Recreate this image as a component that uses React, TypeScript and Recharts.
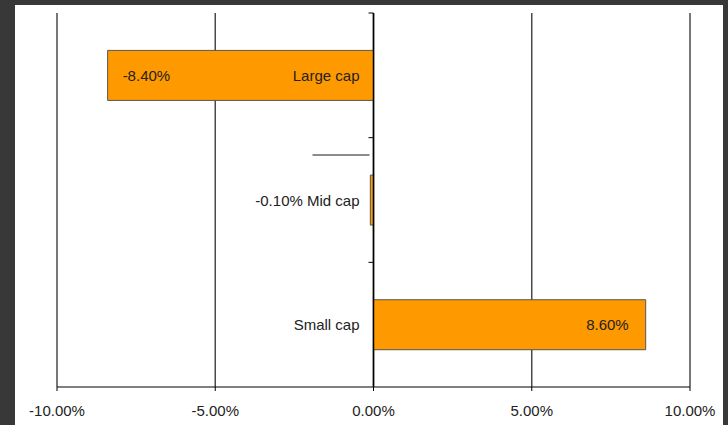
import { BarChart, Bar, XAxis, YAxis, CartesianGrid, ReferenceLine, LabelList } from 'recharts';

const categories = ['Large cap', 'Mid cap', 'Small cap'];
const returns = [-8.4, -0.1, 8.6];
const xTicks = [-10, -5, 0, 5, 10];

const data = categories.map((name, i) => ({ name, value: returns[i] }));

const FONT = 'Liberation Sans, Arial, sans-serif';
const fmt = (v: number) => `${v.toFixed(2)}%`;

function barEdges(props: any) {
  const x = Number(props.x);
  const w = Number(props.width);
  return { left: Math.min(x, x + w), right: Math.max(x, x + w) };
}

// category name sits next to the zero axis, like the original
function CategoryLabel(props: any) {
  const { y, height, index } = props;
  const v = returns[index];
  const { left, right } = barEdges(props);
  const zero = v < 0 ? right : left;
  const small = right - left < 60;
  const text = small ? `${fmt(v)} ${categories[index]}` : categories[index];
  const cy = Number(y) + Number(height) / 2;
  return (
    <g>
      {small && (
        <line x1={zero - 61} x2={zero - 4} y1={Number(y) - 20} y2={Number(y) - 20} stroke="#666" strokeWidth={1.5} />
      )}
      <text x={zero - 14} y={cy} textAnchor="end" dominantBaseline="central" fontSize={15} fontFamily={FONT} fill="#222">
        {text}
      </text>
    </g>
  );
}

function ValueLabel(props: any) {
  const { y, height, index } = props;
  const v = returns[index];
  const { left, right } = barEdges(props);
  if (right - left < 60) return null;
  const cy = Number(y) + Number(height) / 2;
  return (
    <text
      x={v < 0 ? left + 15 : right - 17}
      y={cy}
      textAnchor={v < 0 ? 'start' : 'end'}
      dominantBaseline="central"
      fontSize={15}
      fontFamily={FONT}
      fill="#222"
    >
      {fmt(v)}
    </text>
  );
}

// zero axis with tick marks at the category boundaries
function ZeroAxis(props: any) {
  const { x1, y1, y2 } = props;
  const top = Math.min(y1, y2);
  const bottom = Math.max(y1, y2);
  const step = (bottom - top) / categories.length;
  const marks = [];
  for (let i = 0; i < categories.length; i++) {
    const yy = top + i * step;
    marks.push(<line key={i} x1={x1 - 5} x2={x1} y1={yy} y2={yy} stroke="#000" strokeWidth={1} />);
  }
  return (
    <g>
      <line x1={x1} x2={x1} y1={top} y2={bottom} stroke="#000" strokeWidth={1.5} />
      {marks}
    </g>
  );
}

export default function App() {
  return (
    <div style={{ position: 'absolute', left: 0, top: 0, width: 728, height: 425, background: '#383838' }}>
      <div style={{ position: 'absolute', left: 15, top: 5, width: 708, height: 420, background: '#fff' }}>
        <BarChart
          width={708}
          height={420}
          data={data}
          layout="vertical"
          margin={{ top: 8, right: 33, bottom: 8, left: 42 }}
          barCategoryGap="30%"
        >
          <CartesianGrid horizontal={false} stroke="#4a4a4a" strokeWidth={1.5} />
          <XAxis
            type="number"
            domain={[-10, 10]}
            ticks={xTicks}
            tickFormatter={fmt}
            height={30}
            stroke="#000"
            tickSize={4}
            tickMargin={14}
            tick={{ fontSize: 15, fontFamily: FONT, fill: '#222' }}
            interval={0}
          />
          <YAxis type="category" dataKey="name" hide />
          <Bar dataKey="value" fill="#FF9900" stroke="#555" strokeWidth={1} isAnimationActive={false}>
            <LabelList dataKey="value" content={ValueLabel} />
            <LabelList dataKey="name" content={CategoryLabel} />
          </Bar>
          <ReferenceLine x={0} shape={ZeroAxis} />
        </BarChart>
      </div>
    </div>
  );
}
